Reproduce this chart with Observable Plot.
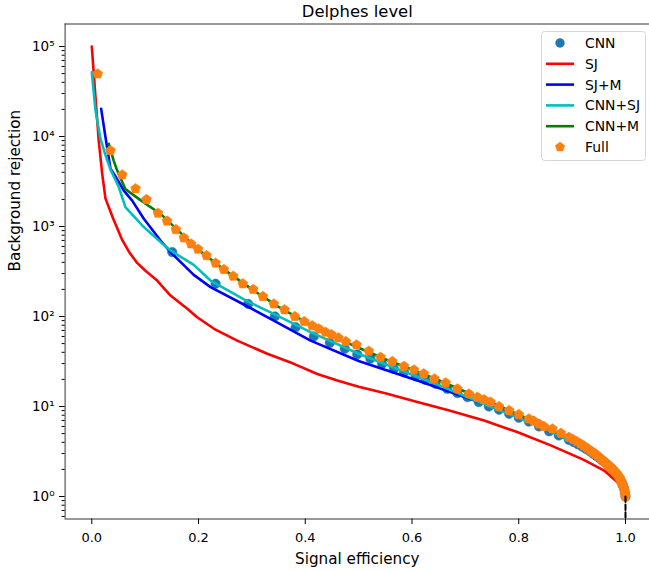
<!DOCTYPE html>
<html>
<head>
<meta charset="utf-8">
<script src="https://cdn.jsdelivr.net/npm/d3@7"></script>
<script src="https://cdn.jsdelivr.net/npm/@observablehq/plot@0.6"></script>
<style>
  html, body { margin: 0; padding: 0; background: #fff; }
  #wrap { position: relative; width: 649px; height: 571px; font-family: "DejaVu Sans", sans-serif; }
  #legend { position: absolute; left: 541px; top: 31px; }
</style>
</head>
<body>
<div id="wrap"></div>
<script>
// ---------------- data ----------------
const title = "Delphes level";
const xLabel = "Signal efficiency";
const yLabel = "Background rejection";
const xTicks = [0, 0.2, 0.4, 0.6, 0.8, 1.0];
const yTicks = [1, 10, 100, 1000, 10000, 100000];
const yTickLabels = ["10⁰", "10¹", "10²", "10³", "10⁴", "10⁵"];

const seriesNames = ["CNN", "SJ", "SJ+M", "CNN+SJ", "CNN+M", "Full"];
const seriesColors = ["#1f77b4", "#ff0000", "#0000ff", "#00bfbf", "#008000", "#ff7f0e"];

// CNN (dots)
const cnnX = [0.1507, 0.232, 0.293, 0.343, 0.382, 0.416, 0.446, 0.474, 0.4975, 0.522, 0.544, 0.566, 0.585, 0.607, 0.625, 0.644, 0.666, 0.685, 0.704, 0.725, 0.744, 0.763, 0.782, 0.800, 0.819, 0.838, 0.857, 0.875, 0.894, 0.903, 0.911, 0.919, 0.926, 0.933, 0.939, 0.945, 0.951, 0.956, 0.961, 0.966, 0.970, 0.974, 0.978, 0.981, 0.984, 0.987, 0.990, 0.993, 0.995, 0.997, 0.999, 1.0];
const cnnY = [519, 231, 138, 100, 76, 60, 51, 43.8, 37.8, 34, 29.8, 26.2, 24.0, 21.7, 19.8, 17.9, 15.7, 14.1, 12.7, 11.2, 10.0, 9.2, 8.3, 7.5, 6.8, 6.0, 5.3, 4.76, 4.25, 4.02, 3.8, 3.58, 3.38, 3.18, 3.0, 2.83, 2.67, 2.53, 2.4, 2.27, 2.15, 2.04, 1.93, 1.83, 1.74, 1.64, 1.54, 1.43, 1.34, 1.24, 1.1, 1.0];

// SJ
const sjX = [0, 0.007, 0.013, 0.0195, 0.0257, 0.04, 0.056, 0.07, 0.084, 0.1, 0.1225, 0.1475, 0.179, 0.1975, 0.229, 0.2725, 0.3288, 0.3787, 0.4225, 0.46, 0.5, 0.55, 0.61, 0.67, 0.735, 0.797, 0.86, 0.922, 0.96, 0.985, 0.994, 1.0];
const sjY = [100000, 27000, 9000, 3850, 2040, 1230, 730, 520, 400, 324, 251, 171, 122, 98, 73, 54, 38.5, 29.8, 23, 19.4, 16.6, 14.0, 11.2, 9.0, 7.0, 5.2, 3.7, 2.55, 1.94, 1.44, 1.17, 1.0];

// SJ+M
const sjmX = [0.0176, 0.0257, 0.035, 0.0444, 0.06, 0.0757, 0.0975, 0.1288, 0.1475, 0.191, 0.2225, 0.291, 0.341, 0.41, 0.5, 0.61, 0.735, 0.797, 0.86, 0.922, 0.96, 0.985, 0.994, 1.0];
const sjmY = [20300, 9800, 4400, 3600, 2500, 1940, 1220, 699, 519, 290, 212, 130, 90, 54, 32, 19.4, 10.7, 7.9, 5.3, 3.5, 2.5, 1.64, 1.27, 1.0];

// CNN+SJ
const cnnsjX = [0, 0.007, 0.0163, 0.0257, 0.035, 0.0507, 0.063, 0.0975, 0.129, 0.1475, 0.191, 0.2225, 0.291, 0.341, 0.41, 0.5, 0.55, 0.6, 0.65, 0.7, 0.75, 0.8, 0.85, 0.9, 0.94, 0.97, 0.985, 0.995, 1.0];
const cnnsjY = [51800, 19400, 9400, 6200, 4300, 2730, 1640, 985, 670, 541, 375, 251, 148, 107, 67, 38.5, 29.5, 22.6, 17.3, 13.0, 9.8, 7.5, 5.6, 4.05, 3.0, 2.15, 1.72, 1.3, 1.0];

// CNN+M
const cnnmX = [0.032, 0.041, 0.0476, 0.063, 0.088, 0.1007, 0.129, 0.15, 0.2, 0.25, 0.3, 0.35, 0.4, 0.45, 0.5, 0.55, 0.6, 0.65, 0.7, 0.75, 0.8, 0.85, 0.9, 0.94, 0.97, 0.985, 0.995, 1.0];
const cnnmY = [8300, 5400, 4180, 2600, 2030, 1790, 1380, 1050, 550, 325, 200, 128, 87, 61, 45, 33.5, 25.8, 19.6, 14.6, 11.0, 8.1, 5.9, 4.3, 3.1, 2.2, 1.7, 1.3, 1.0];

// Full (pentagons)
const fullX = [0.011, 0.035, 0.057, 0.082, 0.1025, 0.124, 0.141, 0.1575, 0.1725, 0.186, 0.199, 0.215, 0.232, 0.2475, 0.265, 0.283, 0.3025, 0.3205, 0.341, 0.361, 0.3805, 0.398, 0.413, 0.4255, 0.438, 0.449, 0.462, 0.476, 0.496, 0.519, 0.541, 0.563, 0.585, 0.6036, 0.622, 0.642, 0.663, 0.685, 0.7066, 0.7224, 0.735, 0.747, 0.763, 0.782, 0.8, 0.819, 0.828, 0.838, 0.847, 0.863, 0.879, 0.894, 0.902, 0.909, 0.916, 0.922, 0.928, 0.934, 0.939, 0.944, 0.949, 0.954, 0.958, 0.962, 0.966, 0.970, 0.973, 0.976, 0.979, 0.982, 0.985, 0.987, 0.989, 0.991, 0.993, 0.995, 0.997, 0.998, 0.999, 1.0];
const fullY = [49700, 6980, 3750, 2630, 1995, 1406, 1150, 926, 748, 642, 560, 476, 392, 333, 281, 231, 200, 167, 138, 119, 100, 88, 79, 73, 67, 63, 58, 52.7, 48.4, 41.2, 35.3, 31.6, 28, 25.5, 23.1, 20.3, 18.3, 15.7, 13.8, 12.7, 11.9, 11.2, 10.0, 9.03, 8.15, 7.3, 6.9, 6.4, 6.0, 5.65, 5.05, 4.56, 4.3, 4.07, 3.85, 3.65, 3.45, 3.25, 3.1, 2.95, 2.8, 2.63, 2.5, 2.4, 2.28, 2.17, 2.09, 2.0, 1.92, 1.83, 1.74, 1.66, 1.59, 1.5, 1.42, 1.33, 1.23, 1.16, 1.09, 1.0];

// dashed vertical guide at efficiency 1
const guideX = [1, 1];
const guideY = [1, 0.3];

// ---------------- build ----------------
const xDomain = [-0.05, 1.045];
const yDomain = [Math.pow(10, -0.25), Math.pow(10, 5.25)];
const minorTicks = [];
for (let e = -1; e <= 5; e++) for (let m = 2; m <= 9; m++) {
  const v = m * Math.pow(10, e);
  if (v >= yDomain[0] && v <= yDomain[1]) minorTicks.push(v);
}

const toRows = (xs, ys) => xs.map((x, i) => ({x, y: ys[i]}));
const cnn = toRows(cnnX, cnnY);
const sj = toRows(sjX, sjY);
const sjm = toRows(sjmX, sjmY);
const cnnsj = toRows(cnnsjX, cnnsjY);
const cnnm = toRows(cnnmX, cnnmY);
const full = toRows(fullX, fullY);
const guide = toRows(guideX, guideY);

const pentagon = {
  draw(context, size) {
    const R = Math.sqrt(size / 2.3776);
    for (let i = 0; i < 5; i++) {
      const a = -Math.PI / 2 + i * 2 * Math.PI / 5;
      const px = R * Math.cos(a), py = R * Math.sin(a);
      if (i === 0) context.moveTo(px, py); else context.lineTo(px, py);
    }
    context.closePath();
  }
};

const lw = 2.6;
const spine = {stroke: "#333", strokeWidth: 1};

const chart = Plot.plot({
  width: 649,
  height: 571,
  marginLeft: 64.6,
  marginRight: 0,
  marginTop: 23.5,
  marginBottom: 52.5,
  style: {fontFamily: "DejaVu Sans, sans-serif", background: "white", color: "#000"},
  x: {domain: xDomain},
  y: {type: "log", domain: yDomain},
  marks: [
    Plot.dot(cnn, {x: "x", y: "y", r: 4.7, fill: seriesColors[0], stroke: seriesColors[0], strokeWidth: 0.6, clip: true}),
    Plot.line(sj, {x: "x", y: "y", stroke: seriesColors[1], strokeWidth: lw, clip: true}),
    Plot.line(sjm, {x: "x", y: "y", stroke: seriesColors[2], strokeWidth: lw, clip: true}),
    Plot.line(cnnsj, {x: "x", y: "y", stroke: seriesColors[3], strokeWidth: lw, clip: true}),
    Plot.line(cnnm, {x: "x", y: "y", stroke: seriesColors[4], strokeWidth: lw, clip: true}),
    Plot.dot(full, {x: "x", y: "y", r: 4.5, symbol: pentagon, fill: seriesColors[5], stroke: seriesColors[5], strokeWidth: 0.6, clip: true}),
    Plot.line(guide, {x: "x", y: "y", stroke: "#000", strokeWidth: 2, strokeDasharray: "5.5,2.4", clip: true}),
    // spines (left, top, bottom; right spine lies just beyond the picture)
    Plot.ruleX([xDomain[0]], {...spine}),
    Plot.ruleY([yDomain[1]], {...spine}),
    Plot.ruleY([yDomain[0]], {...spine}),
    // axes
    Plot.axisX({ticks: xTicks, tickSize: 5.5, tickPadding: 8.5, fontSize: 13, tickFormat: d3.format(".1f"), label: null}),
    Plot.axisY({ticks: yTicks, tickSize: 5.5, tickPadding: 5, fontSize: 13.5, tickFormat: (d) => yTickLabels[yTicks.indexOf(d)], label: null}),
    Plot.axisY({ticks: minorTicks, tickSize: 3, tickFormat: () => "", label: null}),
    // titles
    Plot.text([title], {frameAnchor: "top", lineAnchor: "middle", dy: -12, fontSize: 16.4, fill: "#000"}),
    Plot.text([xLabel], {frameAnchor: "bottom", lineAnchor: "middle", dy: 39.9, fontSize: 15.2, fill: "#000"}),
    Plot.text([yLabel], {frameAnchor: "left", lineAnchor: "middle", dx: -50, rotate: -90, fontSize: 15.2, fill: "#000"})
  ]
});

const wrap = document.getElementById("wrap");
wrap.appendChild(chart);

// ---------------- legend ----------------
const kinds = ["dot", "line", "line", "line", "line", "pentagon"];
const lg = d3.select(wrap).append("svg")
  .attr("id", "legend")
  .attr("width", 106).attr("height", 131);
lg.append("rect")
  .attr("x", 0.5).attr("y", 0.5).attr("width", 104).attr("height", 129)
  .attr("rx", 3).attr("fill", "rgba(255,255,255,0.8)").attr("stroke", "#d6d6d6");
const pentPath = d3.symbol(pentagon, Math.PI * 4.5 * 4.5)();
seriesNames.forEach((name, i) => {
  const cy = 12 + i * 20.8;
  const g = lg.append("g").attr("transform", `translate(0,${cy})`);
  if (kinds[i] === "line") {
    g.append("line").attr("x1", 5).attr("x2", 33).attr("y1", 0).attr("y2", 0)
      .attr("stroke", seriesColors[i]).attr("stroke-width", lw);
  } else if (kinds[i] === "dot") {
    g.append("circle").attr("cx", 19).attr("cy", 0).attr("r", 4.7).attr("fill", seriesColors[i]);
  } else {
    g.append("path").attr("d", pentPath).attr("transform", "translate(19,0)").attr("fill", seriesColors[i]);
  }
  g.append("text").attr("x", 44).attr("y", 0).attr("dy", "0.36em")
    .attr("font-size", 13.9).attr("font-family", "DejaVu Sans, sans-serif").attr("fill", "#000")
    .text(name);
});
</script>
</body>
</html>
